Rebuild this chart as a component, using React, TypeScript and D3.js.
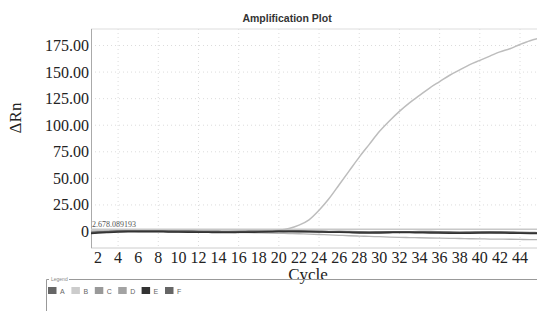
import React from 'react';
import * as d3 from 'd3';

const cycles = d3.range(1, 47);
const yTicks = [0, 25, 50, 75, 100, 125, 150, 175];
const xTicks = d3.range(2, 46, 2);
const legendNames = ['A', 'B', 'C', 'D', 'E', 'F'];
const legendColors = ['#666', '#ccc', '#999', '#a3a3a3', '#333', '#666'];

// ΔRn per cycle (1..46)
const seriesA = [-1.5, -0.8, -0.3, 0, 0.2, 0.3, 0.3, 0.2, 0.1, 0, -0.1, -0.2, -0.3, -0.4, -0.5, -0.5, -0.4, -0.3, -0.2, 0, 0.2, 0.3, 0.2, 0, -0.2, -0.4, -0.6, -0.8, -0.9, -0.8, -0.6, -0.5, -0.4, -0.5, -0.6, -0.8, -0.9, -1, -0.9, -0.8, -0.7, -0.8, -0.9, -1, -1.1, -1.2];
const seriesB = [0.4, 0.6, 0.8, 0.9, 0.9, 0.8, 0.7, 0.6, 0.5, 0.5, 0.4, 0.4, 0.3, 0.3, 0.3, 0.3, 0.4, 0.5, 0.7, 1.2, 2.8, 6, 11, 20, 31, 44, 57, 70, 82, 94, 104, 113, 121, 128, 135, 141, 147, 152, 157, 161, 165, 169, 172, 176, 179.5, 182];
const seriesC = [-1.0, -0.5, 0, 0.4, 0.6, 0.6, 0.5, 0.4, 0.2, 0.1, 0, -0.1, -0.1, 0, 0.1, 0.2, 0.3, 0.2, 0.1, -0.1, -0.3, -0.4, -0.3, -0.1, 0.1, 0.2, 0, -0.3, -0.6, -0.9, -0.8, -0.6, -0.3, -0.1, 0, -0.2, -0.5, -0.8, -0.7, -0.4, -0.2, -0.3, -0.6, -0.9, -1.0, -1.1];
const seriesD = [-0.5, -0.2, 0, 0.1, 0.1, 0, -0.1, -0.2, -0.3, -0.4, -0.5, -0.6, -0.7, -0.8, -0.9, -1.0, -1.1, -1.3, -1.5, -1.7, -1.9, -2.1, -2.4, -2.8, -3.2, -3.6, -4.0, -4.3, -4.6, -4.9, -5.2, -5.5, -5.7, -5.9, -6.1, -6.3, -6.5, -6.6, -6.8, -6.9, -7.1, -7.2, -7.3, -7.5, -7.6, -7.7];
const seriesE = [-2.0, -1.4, -0.9, -0.5, -0.3, -0.2, -0.2, -0.3, -0.4, -0.5, -0.6, -0.7, -0.8, -0.9, -0.9, -0.8, -0.7, -0.5, -0.3, -0.1, 0, -0.1, -0.3, -0.5, -0.7, -0.8, -1.0, -1.3, -1.5, -1.3, -1.1, -0.9, -1.0, -1.2, -1.4, -1.5, -1.6, -1.7, -1.6, -1.4, -1.3, -1.4, -1.6, -1.7, -1.8, -1.9];
const seriesF = [-1.2, -0.6, -0.2, 0.2, 0.4, 0.5, 0.5, 0.4, 0.3, 0.3, 0.2, 0.1, 0, -0.1, -0.2, -0.2, -0.1, 0, 0.2, 0.4, 0.5, 0.4, 0.2, 0, -0.2, -0.3, -0.5, -0.6, -0.7, -0.5, -0.3, -0.2, -0.3, -0.5, -0.7, -0.9, -1.0, -1.1, -1.0, -0.9, -0.8, -0.9, -1.0, -1.2, -1.3, -1.4];
const thresholdValue = 2.2;
const thresholdLabel = '2.678.089193';

const W = 537;
const H = 311;
const plot = { left: 91, top: 29, right: 545, bottom: 248 };
const SERIF = "'Liberation Serif', 'DejaVu Serif', serif";
const SANS = "'Liberation Sans', Arial, sans-serif";

const App: React.FC = () => {
  const x = d3.scaleLinear().domain([2, 44]).range([98, 520]);
  const y = d3.scaleLinear().domain([0, 175]).range([231.5, 45.5]);

  const line = d3.line<number>()
    .x((_, i) => x(cycles[i]))
    .y(d => y(d))
    .curve(d3.curveMonotoneX);

  const series = [
    { name: 'D', values: seriesD, color: '#b5b5b5', width: 1.3 },
    { name: 'B', values: seriesB, color: '#bdbdbd', width: 1.5 },
    { name: 'C', values: seriesC, color: '#8a8a8a', width: 1.5 },
    { name: 'A', values: seriesA, color: '#666', width: 1.5 },
    { name: 'F', values: seriesF, color: '#555', width: 1.5 },
    { name: 'E', values: seriesE, color: '#333', width: 1.5 },
  ];

  const vGrid = d3.range(4, 46, 4);

  return (
    <svg width={W} height={H} style={{ position: 'absolute', left: 0, top: 0, background: '#fff' }}>
      <defs>
        <clipPath id="plotClip">
          <rect x={plot.left} y={plot.top} width={plot.right - plot.left} height={plot.bottom - plot.top} />
        </clipPath>
      </defs>

      <text x={287} y={22} textAnchor="middle" style={{ fontFamily: SANS }}
        fontWeight="bold" fontSize={10.5} fill="#333">Amplification Plot</text>

      {/* grid */}
      <g stroke="#dcdcdc" strokeWidth={1} strokeDasharray="1,3">
        {yTicks.slice(1).map(t => (
          <line key={'h' + t} x1={plot.left} x2={plot.right} y1={y(t)} y2={y(t)} />
        ))}
        {vGrid.map(t => (
          <line key={'v' + t} x1={x(t)} x2={x(t)} y1={plot.top} y2={plot.bottom} />
        ))}
      </g>

      {/* frame */}
      <line x1={plot.left} x2={plot.right} y1={plot.top} y2={plot.top} stroke="#ddd" />
      <line x1={plot.left} x2={plot.right} y1={plot.bottom} y2={plot.bottom} stroke="#ccc" />
      <line x1={plot.left + 0.5} x2={plot.left + 0.5} y1={plot.top} y2={plot.bottom} stroke="#aaa" />

      <g clipPath="url(#plotClip)">
        <line x1={plot.left} x2={plot.right} y1={y(thresholdValue)} y2={y(thresholdValue)}
          stroke="#c8c8c8" strokeWidth={1.5} />
        {series.map(s => (
          <path key={s.name} d={line(s.values) || ''} fill="none" stroke={s.color} strokeWidth={s.width} />
        ))}
      </g>

      <text x={plot.left + 1} y={y(thresholdValue) - 2} style={{ fontFamily: SERIF }}
        fontSize={8} fill="#555">{thresholdLabel}</text>

      {/* y axis */}
      <g style={{ fontFamily: SERIF }} fontSize={16} fill="#222" textAnchor="end">
        {yTicks.map(t => (
          <text key={t} x={89} y={y(t) + 5.5}>{t === 0 ? '0' : t.toFixed(2)}</text>
        ))}
      </g>
      <text transform="translate(21,118) rotate(-90)" textAnchor="middle"
        style={{ fontFamily: SERIF }} fontSize={17} fill="#222">ΔRn</text>

      {/* x axis */}
      <g style={{ fontFamily: SERIF }} fontSize={16} fill="#222" textAnchor="middle">
        {xTicks.map(t => (
          <text key={t} x={x(t)} y={263}>{t}</text>
        ))}
      </g>
      <text x={308} y={280} textAnchor="middle" style={{ fontFamily: SERIF }}
        fontSize={17} fill="#222">Cycle</text>

      {/* legend */}
      <path d={`M49,279.5 H46.5 V311 M69,279.5 H537`} fill="none" stroke="#999" />
      <text x={51} y={281} style={{ fontFamily: SANS }} fontSize={5} fill="#888">Legend</text>
      {legendNames.map((n, i) => (
        <g key={n} transform={`translate(${48 + i * 23.4},287)`}>
          <rect width={8.5} height={7} fill={legendColors[i]} />
          <text x={12} y={6.5} style={{ fontFamily: SANS }} fontSize={7} fill="#666">{n}</text>
        </g>
      ))}
    </svg>
  );
};

export default App;
